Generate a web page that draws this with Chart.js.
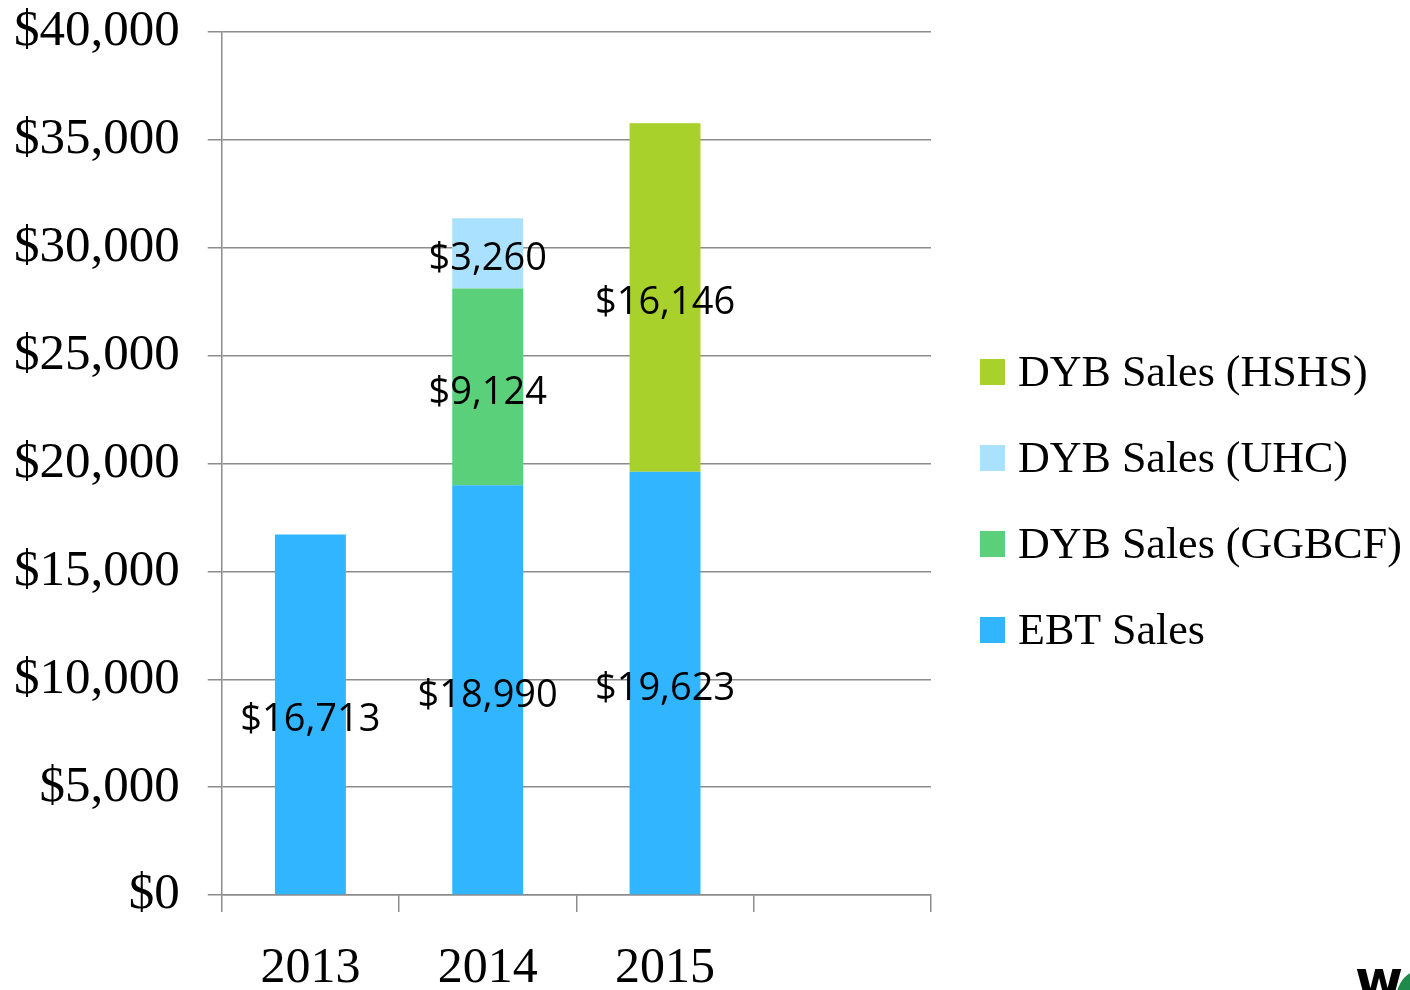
<!DOCTYPE html>
<html>
<head>
<meta charset="utf-8">
<script src="https://cdn.jsdelivr.net/npm/chart.js@4"></script>
<style>
  body { margin: 0; background: #fff; }
  #wrap { position: relative; width: 1410px; height: 990px; overflow: hidden; }
  .logo-w { position: absolute; left: 1355px; top: 953px; font: 900 52px "DejaVu Sans"; color: #000; line-height: 1; }
  .logo-g { position: absolute; left: 1396px; top: 970px; width: 50px; height: 60px; border-radius: 50%; background: #1e8a4c; }
</style>
</head>
<body>
<div id="wrap">
  <canvas id="grafico" width="1410" height="990"></canvas>
  <span class="logo-w">w</span>
  <div class="logo-g"></div>
</div>
<script>
const anios = ['2013', '2014', '2015', ''];
const ventasEBT = [16713, 18990, 19623, null];
const ventasGGBCF = [null, 9124, null, null];
const ventasUHC = [null, 3260, null, null];
const ventasHSHS = [null, null, 16146, null];
const ticksY = [0, 5000, 10000, 15000, 20000, 25000, 30000, 35000, 40000];

const dinero = v => '$' + v.toLocaleString('en-US');

// etiquetas de valor al centro de cada tramo
const etiquetas = {
  id: 'etiquetas',
  afterDatasetsDraw(chart) {
    const ctx = chart.ctx;
    ctx.save();
    ctx.font = '38px "Open Sans"';
    ctx.fillStyle = '#000';
    ctx.textAlign = 'center';
    ctx.textBaseline = 'middle';
    chart.data.datasets.forEach((ds, i) => {
      chart.getDatasetMeta(i).data.forEach((bar, j) => {
        const v = ds.data[j];
        if (v == null) return;
        const { x, y, base } = bar.getProps(['x', 'y', 'base'], true);
        ctx.fillText(dinero(v), x, (y + base) / 2 + 6);
      });
    });
    ctx.restore();
  }
};

// leyenda a la derecha, orden invertido
const leyenda = {
  id: 'leyenda',
  afterDraw(chart) {
    const ctx = chart.ctx;
    ctx.save();
    ctx.font = '44px "Liberation Serif"';
    ctx.textBaseline = 'middle';
    const items = chart.data.datasets.slice().reverse();
    items.forEach((ds, k) => {
      const cy = 372 + k * 86;
      ctx.fillStyle = ds.backgroundColor;
      ctx.fillRect(980, cy - 13, 25, 26);
      ctx.fillStyle = '#000';
      ctx.fillText(ds.label, 1018, cy + 2);
    });
    ctx.restore();
  }
};

new Chart(document.getElementById('grafico'), {
  type: 'bar',
  data: {
    labels: anios,
    datasets: [
      { label: 'EBT Sales', data: ventasEBT, backgroundColor: '#31b5fe' },
      { label: 'DYB Sales (GGBCF)', data: ventasGGBCF, backgroundColor: '#5ad07a' },
      { label: 'DYB Sales (UHC)', data: ventasUHC, backgroundColor: '#aae1fe' },
      { label: 'DYB Sales (HSHS)', data: ventasHSHS, backgroundColor: '#a8d12b' }
    ]
  },
  options: {
    responsive: false,
    maintainAspectRatio: false,
    animation: false,
    categoryPercentage: 1,
    barPercentage: 0.4,
    layout: { padding: { left: -14, right: 479, top: 32, bottom: -35 } },
    plugins: {
      legend: { display: false },
      tooltip: { enabled: false }
    },
    scales: {
      x: {
        stacked: true,
        offset: true,
        grid: { offset: true, drawOnChartArea: false, color: '#8c8c8c', lineWidth: 1.5, tickLength: 17 },
        border: { color: '#8c8c8c', width: 1.5 },
        ticks: { color: '#000', padding: 29, font: { family: 'Liberation Serif', size: 50, lineHeight: 1.1 } }
      },
      y: {
        stacked: true,
        min: 0,
        max: 40000,
        afterBuildTicks: axis => { axis.ticks = ticksY.map(v => ({ value: v })); },
        grid: { color: '#8c8c8c', lineWidth: 1.5, tickLength: 14 },
        border: { color: '#8c8c8c', width: 1.5 },
        ticks: { color: '#000', padding: 28, font: { family: 'Liberation Serif', size: 51, lineHeight: 0.16 }, callback: v => dinero(v) }
      }
    }
  },
  plugins: [etiquetas, leyenda]
});
</script>
</body>
</html>
